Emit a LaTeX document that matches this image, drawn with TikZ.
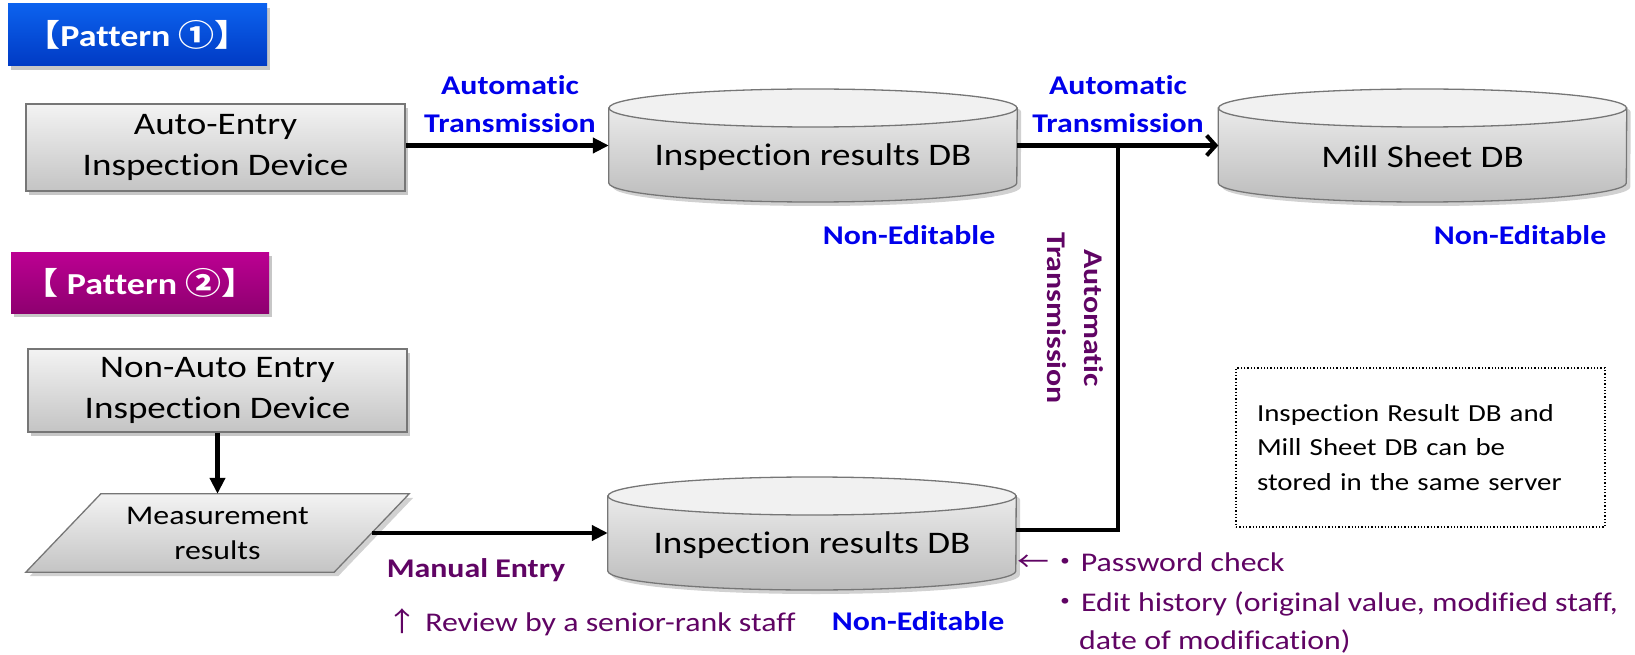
\documentclass[tikz,border=0pt]{standalone}
\usepackage{fontspec}
\setmainfont{Carlito}[FakeStretch=1.18, Ligatures=NoCommon, RawFeature={-liga;-clig;-calt;-dlig}]
\newfontfamily\cjk{Noto Sans CJK JP}[FakeStretch=1.18]
\usetikzlibrary{calc,arrows.meta,shadows}
\definecolor{pblueA}{RGB}{12,98,238}
\definecolor{pblueB}{RGB}{0,58,196}
\definecolor{pmagA}{RGB}{188,0,146}
\definecolor{pmagB}{RGB}{142,0,112}
\definecolor{lblue}{RGB}{0,0,235}
\definecolor{lpurple}{RGB}{96,4,100}
\definecolor{gtop}{RGB}{243,243,243}
\definecolor{gbot}{RGB}{196,196,196}
\definecolor{gborder}{RGB}{118,118,118}
\definecolor{cylA}{RGB}{234,234,234}
\definecolor{cylB}{RGB}{188,188,188}
\definecolor{cyltop}{RGB}{241,241,241}
\tikzset{
  softshadow/.style={drop shadow={shadow xshift=3pt, shadow yshift=-4pt, opacity=0.22, fill=black}},
  graybox/.style={draw=gborder, line width=1.3pt, top color=gtop, bottom color=gbot,
    minimum width=379pt, align=center, inner sep=0pt,
    font=\fontsize{31.4}{41}\selectfont, softshadow},
  patbox/.style={minimum width=259pt, minimum height=62pt, text=white, inner sep=0pt,
    font=\bfseries\fontsize{30.5}{35}\selectfont, softshadow},
  bluelab/.style={text=lblue, font=\bfseries\fontsize{27}{38}\selectfont, align=center, inner sep=0pt},
  purplab/.style={text=lpurple, font=\bfseries\fontsize{27}{37}\selectfont, align=center, inner sep=0pt},
  purptext/.style={text=lpurple, font=\fontsize{27}{33}\selectfont, inner sep=0pt, anchor=base west},
  conn/.style={line width=4.5pt, draw=black},
  farrow/.style={conn, -{Triangle[length=16pt, width=15pt]}},
  barrow/.style={conn, -{Straight Barb[length=9pt, width=20pt, line width=4pt]}},
  notebox/.style={draw=black, dotted, line width=1.3pt, minimum width=369pt, minimum height=159pt,
    text width=327pt, inner xsep=21pt, align=left, font=\fontsize{24.5}{34.5}\selectfont}
}
\newcommand{\dbcyl}[4]{%
  \node[minimum width=408pt, minimum height=113pt, inner sep=0pt] (#1) at (#2,#3) {};
  \fill[black, opacity=0.18] ($(#1.west)+(4,33.5)$) -- ($(#1.west)+(4,-41.5)$)
     arc[start angle=180, end angle=360, x radius=204pt, y radius=19pt]
     -- ($(#1.east)+(4,33.5)$) arc[start angle=0, end angle=180, x radius=204pt, y radius=19pt] -- cycle;
  \shadedraw[top color=cylA, bottom color=cylB, draw=gborder, line width=1.3pt]
     ($(#1.west)+(0,37.5)$) -- ($(#1.west)+(0,-37.5)$)
     arc[start angle=180, end angle=360, x radius=204pt, y radius=19pt]
     -- ($(#1.east)+(0,37.5)$) -- cycle;
  \filldraw[fill=cyltop, draw=gborder, line width=1.3pt] ($(#1.center)+(0,37.5)$) ellipse[x radius=204pt, y radius=19pt];
  \node[font=\fontsize{31.4}{38}\selectfont, inner sep=0pt] (#1text) at ($(#1.center)+(0,-11.5)$) {#4};
}
\begin{document}
\begin{tikzpicture}[x=1pt, y=1pt]
\useasboundingbox (0,0) rectangle (1635,-655);

% pattern labels
\node[patbox, top color=pblueA, bottom color=pblueB] (p1) at (137.5,-35) {{\cjk 【}Pattern {\cjk ①}{\cjk 】}};
\node[patbox, minimum width=258pt, minimum height=61pt, top color=pmagA, bottom color=pmagB] (p2) at (140,-282.5) {{\cjk 【} Pattern {\cjk ②}{\cjk 】}};

% pattern 1
\node[graybox, minimum height=87pt] (auto) at (215.5,-147.5) {Auto-Entry\\Inspection Device};
\dbcyl{db1}{813}{-145.5}{Inspection results DB}
\dbcyl{db2}{1422.5}{-145.5}{Mill Sheet DB}
\node[bluelab] (t1) at (510,-104.5) {Automatic\\Transmission};
\node[bluelab] (t2) at (1118,-104.5) {Automatic\\Transmission};
\node[bluelab] (ne1) at (909,-235) {Non-Editable};
\node[bluelab] (ne2) at (1520,-235) {Non-Editable};
\draw[farrow] (auto.east |- db1.west) -- (db1.west);
\draw[barrow] (db1.east) -- (db2.west);

% pattern 2
\node[graybox, minimum height=83pt] (nonauto) at (217.5,-390.5) {Non-Auto Entry\\Inspection Device};
\node[minimum width=308pt, minimum height=78pt, inner sep=0pt, align=center,
      font=\fontsize{27}{35}\selectfont] (meas) at (217.5,-533) {};
\fill[black, opacity=0.18] ($(meas.north west)+(41.5,-4)$) -- ($(meas.north east)+(41.5,-4)$)
   -- ($(meas.south east)+(-33.5,-4)$) -- ($(meas.south west)+(-33.5,-4)$) -- cycle;
\shadedraw[top color=gtop, bottom color=gbot, draw=gborder, line width=1.3pt]
   ($(meas.north west)+(37.5,0)$) -- ($(meas.north east)+(37.5,0)$)
   -- ($(meas.south east)+(-37.5,0)$) -- ($(meas.south west)+(-37.5,0)$) -- cycle;
\node[align=center, font=\fontsize{27}{35}\selectfont, inner sep=0pt] (meastext) at (meas.center) {Measurement\\results};
\dbcyl{db3}{812}{-533.5}{Inspection results DB}
\draw[farrow] (nonauto.south) -- (meas.north);
\draw[farrow] (meas.east) -- (meas.east -| db3.west);
\coordinate (jn) at (1118,-145.5);
\draw[conn] ([yshift=3.5pt]db3.east) -| (jn);

\node[purplab, rotate=-90] (t3) at (1075,-318) {Automatic\\Transmission};
\node[purplab] (me) at (476,-570) {Manual Entry};
\node[purptext] (rev) at (386,-631) {{\cjk ↑} Review by a senior-rank staff};
\node[bluelab] (ne3) at (918,-621) {Non-Editable};
\node[purptext] (pw) at (1017,-571) {{\cjk ←・}Password check};
\node[purptext] (eh) at (1049,-611) {{\cjk ・}Edit history (original value, modified staff,};
\node[purptext] (dm) at (1079,-649) {date of modification)};

\node[notebox] (note) at (1420.5,-447.5) {Inspection Result DB and\\Mill Sheet DB can be\\stored in the same server};
\end{tikzpicture}
\end{document}
